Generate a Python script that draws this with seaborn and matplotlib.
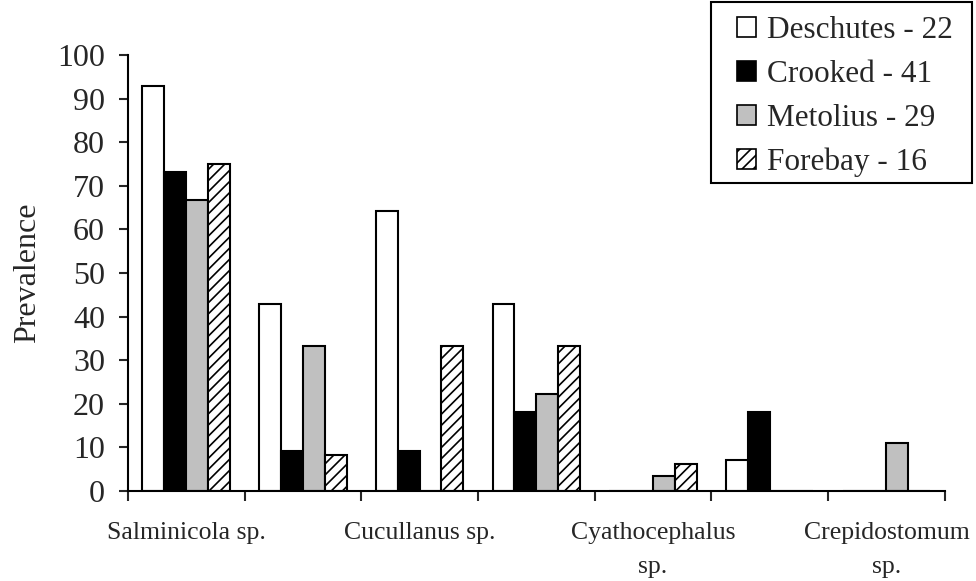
import matplotlib
matplotlib.use('Agg')
import matplotlib.pyplot as plt
import pandas as pd
import seaborn as sns
from matplotlib.patches import Patch, Rectangle

# Data
parasites = ['Salminicola sp.', 'Group 2', 'Cucullanus sp.', 'Group 4',
             'Cyathocephalus sp.', 'Group 6', 'Crepidostomum sp.']
tick_labels = ['Salminicola sp.', '', 'Cucullanus sp.', '',
               'Cyathocephalus\nsp.', '', 'Crepidostomum\nsp.']
sites = ['Deschutes - 22', 'Crooked - 41', 'Metolius - 29', 'Forebay - 16']

deschutes = [92.9, 42.9, 64.3, 42.9, 0, 7.1, 0]
crooked = [73.2, 9.1, 9.1, 18.2, 0, 18.2, 0]
metolius = [66.7, 33.3, 0, 22.2, 3.4, 0, 11.1]
forebay = [75.0, 8.3, 33.3, 33.3, 6.2, 0, 0]

colors = ['white', 'black', '#c0c0c0', 'white']
hatches = ['', '', '', '///']

df = pd.DataFrame({
    'parasite': parasites * 4,
    'site': [s for s in sites for _ in parasites],
    'value': deschutes + crooked + metolius + forebay,
})

sns.set_style('white')
plt.rcParams['font.family'] = ['Liberation Serif', 'DejaVu Serif']
plt.rcParams['hatch.linewidth'] = 1.2

fig = plt.figure(figsize=(9.76, 5.81), dpi=100)
ax = fig.add_axes([0.131, 0.155, 0.837, 0.750])

sns.barplot(data=df, x='parasite', y='value', hue='site', order=parasites,
            hue_order=sites, palette=colors, saturation=1, width=0.75,
            edgecolor='black', linewidth=1.5, ax=ax, legend=False)

for cont, h in zip(ax.containers, hatches):
    for p in cont:
        p.set_hatch(h)

ax.set_ylim(0, 100)
ax.set_xlim(-0.5, len(parasites) - 0.5)
ax.set_yticks(range(0, 101, 10))
ax.tick_params(axis='y', labelsize=23, direction='out', length=6.5, width=1.5,
               left=True, pad=10)

# category labels at centres, tick marks at boundaries
ax.set_xticks(range(len(parasites)))
ax.set_xticklabels(tick_labels, fontsize=18.5, linespacing=1.75)
ax.set_xticks([i - 0.5 for i in range(len(parasites) + 1)], minor=True)
ax.tick_params(axis='x', which='major', length=0, pad=22)
ax.tick_params(axis='x', which='minor', direction='out', length=7, width=1.5,
               bottom=True)

ax.set_xlabel('')
ax.set_ylabel('Prevalence', fontsize=23, labelpad=11)

sns.despine(ax=ax)
for s in ['left', 'bottom']:
    ax.spines[s].set_linewidth(1.5)
    ax.spines[s].set_color('black')

handles = [Patch(facecolor=c, edgecolor='black', hatch=h, linewidth=1.2)
           for c, h in zip(colors, hatches)]
fig.legend(handles, sites, loc='upper left', bbox_to_anchor=(0.755, 0.972),
           fontsize=22.5, frameon=False, handlelength=0.61, handleheight=0.61,
           handletextpad=0.35, labelspacing=0.47, borderpad=0, borderaxespad=0)
fig.patches.append(Rectangle((711 / 976, 1 - 183 / 581), 261 / 976, 181 / 581,
                             transform=fig.transFigure, fill=False,
                             edgecolor='black', linewidth=1.5))

fig.savefig('out.png', dpi=100)
